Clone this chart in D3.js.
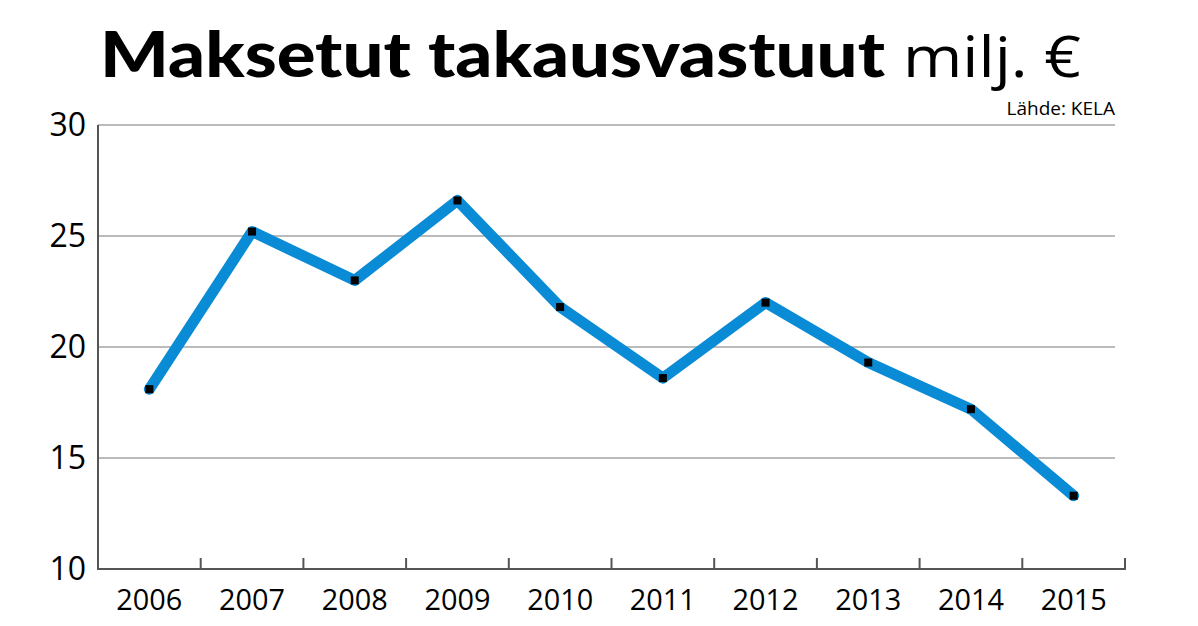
<!DOCTYPE html>
<html><head><meta charset="utf-8">
<script src="https://cdn.jsdelivr.net/npm/d3@7"></script>
<style>body{margin:0;background:#fff}</style>
</head><body>
<svg width="1198" height="626"></svg>
<script>
const years = ["2006","2007","2008","2009","2010","2011","2012","2013","2014","2015"];
const values = [18.1, 25.2, 23.0, 26.6, 21.8, 18.6, 22.0, 19.3, 17.2, 13.3];
const yTicks = [10, 15, 20, 25, 30];

const svg = d3.select("svg");
const x = d3.scaleBand().domain(years).range([98, 1125]);
const y = d3.scaleLinear().domain([10, 30]).range([569, 125]);

// title
svg.append("text").attr("x", 100).attr("y", 77)
  .attr("textLength", 785).attr("lengthAdjust", "spacingAndGlyphs")
  .style("font-family", "Lato, sans-serif").style("font-weight", 900).style("font-size", "62px")
  .text("Maksetut takausvastuut");
svg.append("text").attr("x", 903).attr("y", 77)
  .attr("textLength", 178).attr("lengthAdjust", "spacingAndGlyphs")
  .style("font-family", "'Open Sans', sans-serif").style("font-size", "56px")
  .text("milj. €");
svg.append("text").attr("x", 1115).attr("y", 115).attr("text-anchor", "end")
  .style("font-family", "'Open Sans', sans-serif").style("font-size", "19px").text("Lähde: KELA");

// grid
svg.selectAll(".grid").data(yTicks.slice(1)).enter().append("line")
  .attr("x1", 98).attr("x2", 1115).attr("y1", d => y(d)).attr("y2", d => y(d))
  .attr("stroke", "#bbb").attr("stroke-width", 2);

svg.selectAll(".yl").data(yTicks).enter().append("text")
  .attr("x", 86).attr("y", d => y(d) + 11).attr("text-anchor", "end")
  .style("font-family", "'Open Sans', sans-serif").style("font-size", "32px").text(d => d);

// axes
svg.append("line").attr("x1", 98).attr("x2", 98).attr("y1", 125).attr("y2", 570).attr("stroke", "#555").attr("stroke-width", 2);
svg.append("line").attr("x1", 97).attr("x2", 1126).attr("y1", 569).attr("y2", 569).attr("stroke", "#555").attr("stroke-width", 2);
svg.selectAll(".tk").data(years).enter().append("line")
  .attr("x1", d => x(d) + x.bandwidth()).attr("x2", d => x(d) + x.bandwidth())
  .attr("y1", 558).attr("y2", 569).attr("stroke", "#555").attr("stroke-width", 2);
svg.selectAll(".xl").data(years).enter().append("text")
  .attr("x", d => x(d) + x.bandwidth() / 2).attr("y", 610).attr("text-anchor", "middle")
  .attr("textLength", 66).attr("lengthAdjust", "spacingAndGlyphs")
  .style("font-family", "'Open Sans', sans-serif").style("font-size", "30px").text(d => d);

// line
const pts = years.map((d, i) => [x(d) + x.bandwidth() / 2, y(values[i])]);
svg.append("path").attr("d", d3.line()(pts)).attr("fill", "none")
  .attr("stroke", "#0a8bd6").attr("stroke-width", 11).attr("stroke-linejoin", "round").attr("stroke-linecap", "round");
svg.selectAll(".pt").data(pts).enter().append("rect")
  .attr("x", d => d[0] - 4).attr("y", d => d[1] - 4).attr("width", 8).attr("height", 8).attr("fill", "#000");
</script>
</body></html>
